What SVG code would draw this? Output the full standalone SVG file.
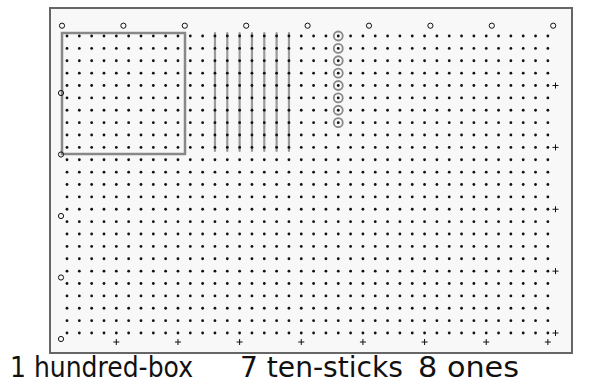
<svg xmlns="http://www.w3.org/2000/svg" xmlns:xlink="http://www.w3.org/1999/xlink" width="601" height="390" viewBox="0 0 601 390">
<style>
.frame{fill:#f8f8f8;stroke:#666;stroke-width:2}
.dot{fill:#111}
.box{fill:none;stroke:#888;stroke-width:2.5}
.stick{stroke:#9a9a9a;stroke-width:2.2;stroke-linecap:round}
.one{fill:none;stroke:#888;stroke-width:1.8}
.ring{fill:none;stroke:#111;stroke-width:1}
.plus{stroke:#111;stroke-width:1}
.lbl{font-family:"DejaVu Sans",sans-serif;font-size:28px;fill:#111}
</style>
<defs>
<g id="row">
<circle class="dot" cx="67" cy="0" r="1.4"/><circle class="dot" cx="79.33" cy="0" r="1.4"/><circle class="dot" cx="91.66" cy="0" r="1.4"/><circle class="dot" cx="103.99" cy="0" r="1.4"/><circle class="dot" cx="116.32" cy="0" r="1.4"/><circle class="dot" cx="128.65" cy="0" r="1.4"/><circle class="dot" cx="140.98" cy="0" r="1.4"/><circle class="dot" cx="153.31" cy="0" r="1.4"/><circle class="dot" cx="165.64" cy="0" r="1.4"/><circle class="dot" cx="177.97" cy="0" r="1.4"/>
<circle class="dot" cx="190.3" cy="0" r="1.4"/><circle class="dot" cx="202.63" cy="0" r="1.4"/><circle class="dot" cx="214.96" cy="0" r="1.4"/><circle class="dot" cx="227.29" cy="0" r="1.4"/><circle class="dot" cx="239.62" cy="0" r="1.4"/><circle class="dot" cx="251.95" cy="0" r="1.4"/><circle class="dot" cx="264.28" cy="0" r="1.4"/><circle class="dot" cx="276.61" cy="0" r="1.4"/><circle class="dot" cx="288.94" cy="0" r="1.4"/><circle class="dot" cx="301.27" cy="0" r="1.4"/>
<circle class="dot" cx="313.6" cy="0" r="1.4"/><circle class="dot" cx="325.93" cy="0" r="1.4"/><circle class="dot" cx="338.26" cy="0" r="1.4"/><circle class="dot" cx="350.59" cy="0" r="1.4"/><circle class="dot" cx="362.92" cy="0" r="1.4"/><circle class="dot" cx="375.25" cy="0" r="1.4"/><circle class="dot" cx="387.58" cy="0" r="1.4"/><circle class="dot" cx="399.91" cy="0" r="1.4"/><circle class="dot" cx="412.24" cy="0" r="1.4"/><circle class="dot" cx="424.57" cy="0" r="1.4"/>
<circle class="dot" cx="436.9" cy="0" r="1.4"/><circle class="dot" cx="449.23" cy="0" r="1.4"/><circle class="dot" cx="461.56" cy="0" r="1.4"/><circle class="dot" cx="473.89" cy="0" r="1.4"/><circle class="dot" cx="486.22" cy="0" r="1.4"/><circle class="dot" cx="498.55" cy="0" r="1.4"/><circle class="dot" cx="510.88" cy="0" r="1.4"/><circle class="dot" cx="523.21" cy="0" r="1.4"/><circle class="dot" cx="535.54" cy="0" r="1.4"/><circle class="dot" cx="547.87" cy="0" r="1.4"/>
</g>
<path id="plus" class="plus" d="M-3,0H3M0,-3V3"/>
</defs>
<rect id="frame" class="frame" x="50" y="8" width="522" height="345"/>
<g id="ten-sticks">
<line class="stick" x1="214.96" y1="33" x2="214.96" y2="151"/>
<line class="stick" x1="227.29" y1="33" x2="227.29" y2="151"/>
<line class="stick" x1="239.62" y1="33" x2="239.62" y2="151"/>
<line class="stick" x1="251.95" y1="33" x2="251.95" y2="151"/>
<line class="stick" x1="264.28" y1="33" x2="264.28" y2="151"/>
<line class="stick" x1="276.61" y1="33" x2="276.61" y2="151"/>
<line class="stick" x1="288.94" y1="33" x2="288.94" y2="151"/>
</g>
<g id="dots">
<use xlink:href="#row" y="36"/><use xlink:href="#row" y="48.375"/><use xlink:href="#row" y="60.75"/><use xlink:href="#row" y="73.125"/><use xlink:href="#row" y="85.5"/>
<use xlink:href="#row" y="97.875"/><use xlink:href="#row" y="110.25"/><use xlink:href="#row" y="122.625"/><use xlink:href="#row" y="135"/><use xlink:href="#row" y="147.375"/>
<use xlink:href="#row" y="159.75"/><use xlink:href="#row" y="172.125"/><use xlink:href="#row" y="184.5"/><use xlink:href="#row" y="196.875"/><use xlink:href="#row" y="209.25"/>
<use xlink:href="#row" y="221.625"/><use xlink:href="#row" y="234"/><use xlink:href="#row" y="246.375"/><use xlink:href="#row" y="258.75"/><use xlink:href="#row" y="271.125"/>
<use xlink:href="#row" y="283.5"/><use xlink:href="#row" y="295.875"/><use xlink:href="#row" y="308.25"/><use xlink:href="#row" y="320.625"/><use xlink:href="#row" y="333"/>
</g>
<g id="hundred-box">
<rect class="box" x="62" y="33" width="123" height="121"/>
</g>
<g id="ones">
<circle class="one" cx="338.26" cy="36" r="4.5"/><circle class="one" cx="338.26" cy="48.375" r="4.5"/><circle class="one" cx="338.26" cy="60.75" r="4.5"/><circle class="one" cx="338.26" cy="73.125" r="4.5"/>
<circle class="one" cx="338.26" cy="85.5" r="4.5"/><circle class="one" cx="338.26" cy="97.875" r="4.5"/><circle class="one" cx="338.26" cy="110.25" r="4.5"/><circle class="one" cx="338.26" cy="122.625" r="4.5"/>
</g>
<g id="top-marks">
<circle class="ring" cx="62" cy="25.7" r="2.6"/><circle class="ring" cx="123.4" cy="25.7" r="2.6"/><circle class="ring" cx="184.8" cy="25.7" r="2.6"/><circle class="ring" cx="246.2" cy="25.7" r="2.6"/><circle class="ring" cx="307.6" cy="25.7" r="2.6"/><circle class="ring" cx="369" cy="25.7" r="2.6"/><circle class="ring" cx="430.4" cy="25.7" r="2.6"/><circle class="ring" cx="491.8" cy="25.7" r="2.6"/><circle class="ring" cx="553.2" cy="25.7" r="2.6"/>
</g>
<g id="left-marks">
<circle class="ring" cx="61" cy="93" r="2.6"/><circle class="ring" cx="61" cy="154.5" r="2.6"/><circle class="ring" cx="61" cy="216" r="2.6"/><circle class="ring" cx="61" cy="277.5" r="2.6"/><circle class="ring" cx="61" cy="339" r="2.6"/>
</g>
<g id="right-marks">
<use xlink:href="#plus" x="555.5" y="85.5"/><use xlink:href="#plus" x="555.5" y="147.375"/><use xlink:href="#plus" x="555.5" y="209.25"/><use xlink:href="#plus" x="555.5" y="271.125"/><use xlink:href="#plus" x="555.5" y="333"/>
</g>
<g id="bottom-marks">
<use xlink:href="#plus" x="116.32" y="342"/><use xlink:href="#plus" x="177.97" y="342"/><use xlink:href="#plus" x="239.62" y="342"/><use xlink:href="#plus" x="301.27" y="342"/><use xlink:href="#plus" x="362.92" y="342"/><use xlink:href="#plus" x="424.57" y="342"/><use xlink:href="#plus" x="486.22" y="342"/><use xlink:href="#plus" x="547.87" y="342"/>
</g>
<g id="labels">
<text class="lbl" x="10" y="377" textLength="183" lengthAdjust="spacingAndGlyphs">1 hundred-box</text>
<text class="lbl" x="240" y="377" textLength="163" lengthAdjust="spacingAndGlyphs">7 ten-sticks</text>
<text class="lbl" x="418" y="377" textLength="101" lengthAdjust="spacingAndGlyphs">8 ones</text>
</g>
</svg>
